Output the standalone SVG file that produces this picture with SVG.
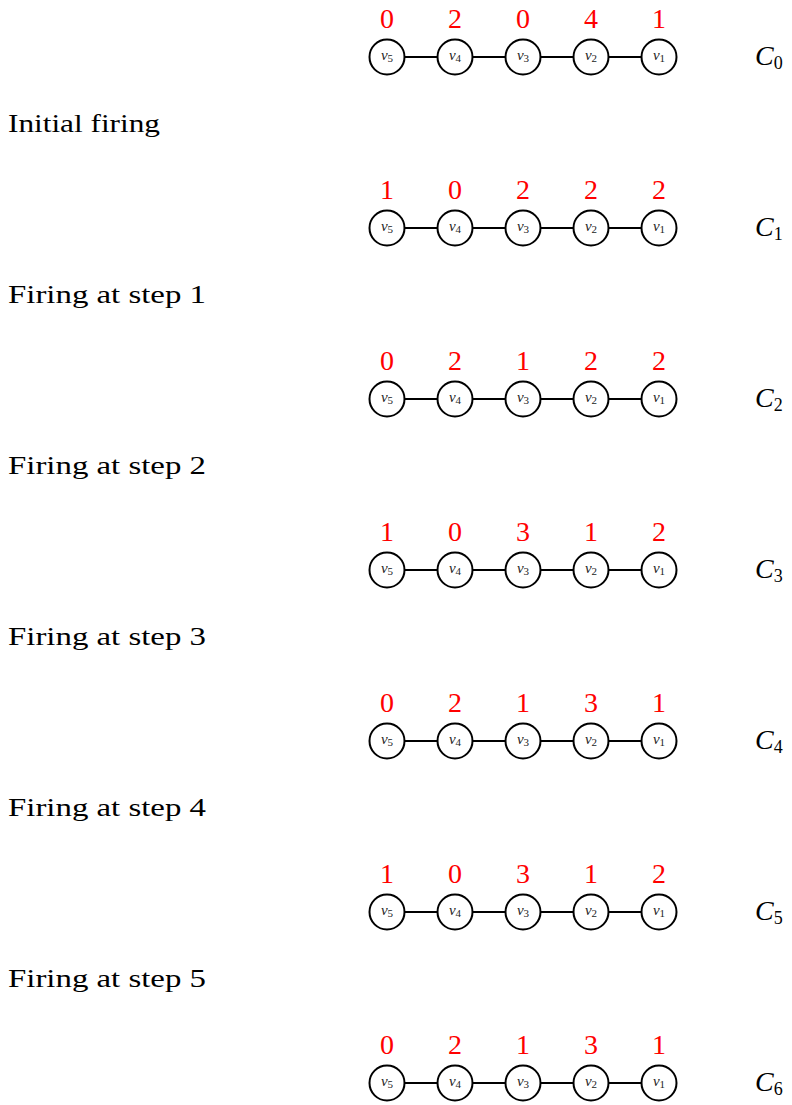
<svg xmlns="http://www.w3.org/2000/svg" width="792" height="1105" viewBox="0 0 792 1105">
<style>
.n{fill:#fff;stroke:#000;stroke-width:2}
.e{stroke:#000;stroke-width:2}
.v{font-family:"Liberation Serif",serif;font-style:italic;font-size:15px;text-anchor:middle;fill:#222}
.vs{font-style:normal;font-size:11px}
.num{font-family:"Liberation Serif",serif;font-size:28px;fill:#ff0000;text-anchor:middle}
.lab{font-family:"Liberation Serif",serif;font-size:25px}
.c{font-family:"Liberation Serif",serif;font-style:italic;font-size:28px}
.cs{font-style:normal;font-size:18px}
</style>
<defs>
<g id="chain">
<line class="e" x1="387" y1="0" x2="659" y2="0"/>
<circle class="n" cx="387" cy="0" r="17.5"/>
<circle class="n" cx="455" cy="0" r="17.5"/>
<circle class="n" cx="523" cy="0" r="17.5"/>
<circle class="n" cx="591" cy="0" r="17.5"/>
<circle class="n" cx="659" cy="0" r="17.5"/>
<text class="v" x="387" y="3">v<tspan class="vs" dy="2">5</tspan></text>
<text class="v" x="455" y="3">v<tspan class="vs" dy="2">4</tspan></text>
<text class="v" x="523" y="3">v<tspan class="vs" dy="2">3</tspan></text>
<text class="v" x="591" y="3">v<tspan class="vs" dy="2">2</tspan></text>
<text class="v" x="659" y="3">v<tspan class="vs" dy="2">1</tspan></text>
</g>
</defs>
<g id="connectors">
<use href="#chain" y="57"/>
<use href="#chain" y="228"/>
<use href="#chain" y="399"/>
<use href="#chain" y="570"/>
<use href="#chain" y="741"/>
<use href="#chain" y="912"/>
<use href="#chain" y="1083"/>
</g>
<g id="config0" class="num"><text x="387" y="28">0</text><text x="455" y="28">2</text><text x="523" y="28">0</text><text x="591" y="28">4</text><text x="659" y="28">1</text></g>
<g id="config1" class="num"><text x="387" y="199">1</text><text x="455" y="199">0</text><text x="523" y="199">2</text><text x="591" y="199">2</text><text x="659" y="199">2</text></g>
<g id="config2" class="num"><text x="387" y="370">0</text><text x="455" y="370">2</text><text x="523" y="370">1</text><text x="591" y="370">2</text><text x="659" y="370">2</text></g>
<g id="config3" class="num"><text x="387" y="541">1</text><text x="455" y="541">0</text><text x="523" y="541">3</text><text x="591" y="541">1</text><text x="659" y="541">2</text></g>
<g id="config4" class="num"><text x="387" y="712">0</text><text x="455" y="712">2</text><text x="523" y="712">1</text><text x="591" y="712">3</text><text x="659" y="712">1</text></g>
<g id="config5" class="num"><text x="387" y="883">1</text><text x="455" y="883">0</text><text x="523" y="883">3</text><text x="591" y="883">1</text><text x="659" y="883">2</text></g>
<g id="config6" class="num"><text x="387" y="1054">0</text><text x="455" y="1054">2</text><text x="523" y="1054">1</text><text x="591" y="1054">3</text><text x="659" y="1054">1</text></g>
<g id="clabels" class="c">
<text x="755" y="65">C<tspan class="cs" dy="4">0</tspan></text>
<text x="755" y="236">C<tspan class="cs" dy="4">1</tspan></text>
<text x="755" y="407">C<tspan class="cs" dy="4">2</tspan></text>
<text x="755" y="578">C<tspan class="cs" dy="4">3</tspan></text>
<text x="755" y="749">C<tspan class="cs" dy="4">4</tspan></text>
<text x="755" y="920">C<tspan class="cs" dy="4">5</tspan></text>
<text x="755" y="1091">C<tspan class="cs" dy="4">6</tspan></text>
</g>
<g id="steps" class="lab">
<text x="8" y="132" textLength="152" lengthAdjust="spacingAndGlyphs">Initial firing</text>
<text x="8" y="303" textLength="198" lengthAdjust="spacingAndGlyphs">Firing at step 1</text>
<text x="8" y="474" textLength="198" lengthAdjust="spacingAndGlyphs">Firing at step 2</text>
<text x="8" y="645" textLength="198" lengthAdjust="spacingAndGlyphs">Firing at step 3</text>
<text x="8" y="816" textLength="198" lengthAdjust="spacingAndGlyphs">Firing at step 4</text>
<text x="8" y="987" textLength="198" lengthAdjust="spacingAndGlyphs">Firing at step 5</text>
</g>
</svg>
